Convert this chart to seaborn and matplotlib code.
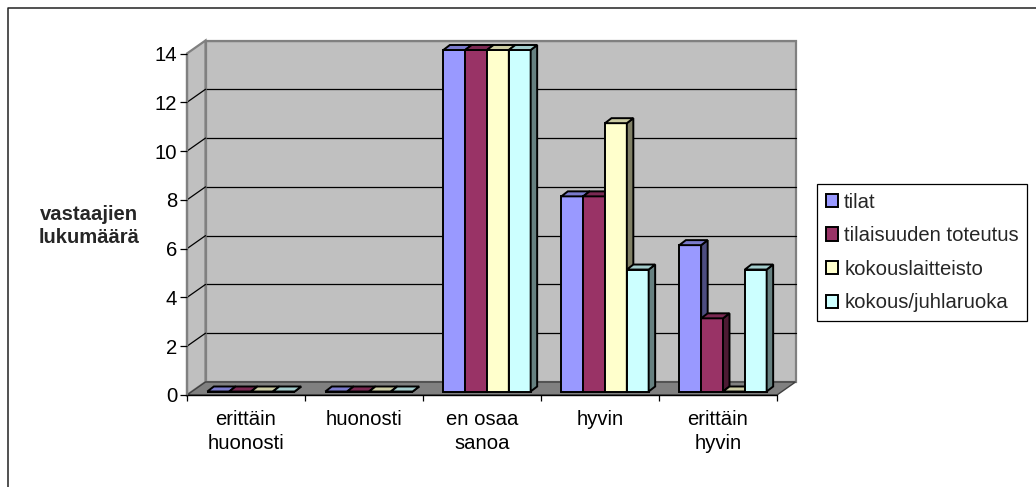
import numpy as np
import pandas as pd
import matplotlib
matplotlib.use("Agg")
import matplotlib.pyplot as plt
import seaborn as sns
from matplotlib.transforms import ScaledTranslation, IdentityTransform
from matplotlib.patches import Polygon, Patch
from matplotlib.lines import Line2D
from matplotlib.colors import to_rgb

# ---------------- data ----------------
categories = ["erittäin\nhuonosti", "huonosti", "en osaa\nsanoa", "hyvin", "erittäin\nhyvin"]
series = ["tilat", "tilaisuuden toteutus", "kokouslaitteisto", "kokous/juhlaruoka"]
tilat = [0, 0, 14, 8, 6]
toteutus = [0, 0, 14, 8, 3]
laitteisto = [0, 0, 14, 11, 0]
ruoka = [0, 0, 14, 5, 5]
yticks = [0, 2, 4, 6, 8, 10, 12, 14]
ylabel = "vastaajien\nlukumäärä"
colors = ["#9999FF", "#993366", "#FFFFCC", "#CCFFFF"]

values = [tilat, toteutus, laitteisto, ruoka]
rows = []
for s, vals in zip(series, values):
    for c, v in zip(categories, vals):
        rows.append({"cat": c, "series": s, "val": v})
df = pd.DataFrame(rows)

# ---------------- style ----------------
sns.set_theme(style="white")
plt.rcParams["font.family"] = ["Liberation Sans", "DejaVu Sans"]
FS = 14.6

W, H, DPI = 1036, 487, 100
fig = plt.figure(figsize=(W / DPI, H / DPI), dpi=DPI)
fig.patch.set_facecolor("white")
ax = fig.add_axes([187 / W, 92 / H, 590 / W, 341.5 / H])
ax.set_facecolor("none")

sns.barplot(data=df, x="cat", y="val", hue="series", order=categories,
            hue_order=series, palette=colors, saturation=1, width=0.74,
            errorbar=None, edgecolor="black", linewidth=1.4, ax=ax, legend=False)
ax.set_xlim(-0.5, len(categories) - 0.5)
ax.set_ylim(0, 14)
for sp in ax.spines.values():
    sp.set_visible(False)
ax.set_xlabel("")
ax.set_ylabel("")

# depth of the 3D box (pixels)
DX, DY = 18.5, 13.0
# bar front-face offset and bar depth (pixels)
FX, FY = 5.0, 3.5
BX, BY = 6.5, 5.0

fig.canvas.draw()
ident = IdentityTransform()

def disp(tr, pts):
    return np.asarray(tr.transform(pts))

# axes corners in display coords
a00, a10, a11, a01 = disp(ax.transAxes, [(0, 0), (1, 0), (1, 1), (0, 1)])
sh = np.array([DX, DY])
gray_wall = "#C0C0C0"
gray_edge = "#808080"

# back wall
ax.add_patch(Polygon([a00 + sh, a10 + sh, a11 + sh, a01 + sh], closed=True,
                     facecolor=gray_wall, edgecolor=gray_edge, linewidth=1.6,
                     transform=ident, clip_on=False, zorder=0.1))
# gridlines on back wall and diagonals on side wall
ytr = ax.get_yaxis_transform()
for v in yticks[1:]:
    p0 = disp(ytr, [(0, v)])[0]
    p1 = disp(ytr, [(1, v)])[0]
    ax.add_line(Line2D([p0[0] + sh[0], p1[0] + sh[0]], [p0[1] + sh[1], p1[1] + sh[1]],
                       color="black" if v != yticks[-1] else gray_edge, linewidth=0.9,
                       transform=ident, clip_on=False, zorder=0.2))
# left wall
ax.add_patch(Polygon([a00, a01, a01 + sh, a00 + sh], closed=True,
                     facecolor=gray_wall, edgecolor=gray_edge, linewidth=1.6,
                     transform=ident, clip_on=False, zorder=0.3))
for v in yticks[1:-1]:
    p0 = disp(ytr, [(0, v)])[0]
    ax.add_line(Line2D([p0[0], p0[0] + sh[0]], [p0[1], p0[1] + sh[1]],
                       color="black", linewidth=0.9, transform=ident,
                       clip_on=False, zorder=0.35))
# floor
ax.add_patch(Polygon([a00, a10, a10 + sh, a00 + sh], closed=True,
                     facecolor="#808080", edgecolor="#404040", linewidth=1.0,
                     transform=ident, clip_on=False, zorder=0.4))
ax.add_line(Line2D([a00[0], a10[0]], [a00[1], a10[1]], color="black", linewidth=1.0,
                   transform=ident, clip_on=False, zorder=0.45))
ax.add_line(Line2D([a00[0], a01[0]], [a00[1], a01[1]], color=gray_edge, linewidth=1.6,
                   transform=ident, clip_on=False, zorder=0.45))

# bars: shift front faces and add top/side faces
off_front = ScaledTranslation(FX / DPI, FY / DPI, fig.dpi_scale_trans)
def shade(c, f):
    r, g, b = to_rgb(c)
    return (r * f, g * f, b * f)

for j, cont in enumerate(ax.containers):
    col = colors[j]
    for i, p in enumerate(cont.patches):
        z = 2 + i * 10 + j * 2
        p.set_transform(ax.transData + off_front)
        p.set_clip_on(False)
        p.set_zorder(z)
        x0, x1 = p.get_x(), p.get_x() + p.get_width()
        h = p.get_height()
        (fx0, fy0), (fx1, fyh), = disp(ax.transData, [(x0, 0), (x1, h)])
        fx0 += FX; fx1 += FX; fy0 += FY; fyh += FY
        top = [(fx0, fyh), (fx1, fyh), (fx1 + BX, fyh + BY), (fx0 + BX, fyh + BY)]
        side = [(fx1, fy0), (fx1, fyh), (fx1 + BX, fyh + BY), (fx1 + BX, fy0 + BY)]
        ax.add_patch(Polygon(side, closed=True, facecolor=shade(col, 0.5),
                             edgecolor="black", linewidth=1.4, transform=ident,
                             clip_on=False, zorder=z + 0.5))
        ax.add_patch(Polygon(top, closed=True, facecolor=shade(col, 0.8),
                             edgecolor="black", linewidth=1.4, transform=ident,
                             clip_on=False, zorder=z + 0.6))

# ticks
ax.set_yticks(yticks)
ax.set_yticklabels([str(v) for v in yticks])
ax.tick_params(axis="y", which="major", left=True, length=5, width=0.9,
               color="black", direction="out", labelsize=FS, pad=2)
ax.set_xticks(range(len(categories)))
ax.set_xticklabels(categories, linespacing=1.3)
ax.set_xticks(np.arange(-0.5, len(categories), 1.0), minor=True)
ax.tick_params(axis="x", which="major", bottom=True, length=0, labelsize=FS, pad=11)
ax.tick_params(axis="x", which="minor", bottom=True, length=4.5, width=0.9,
               color="black", direction="out")
for t in ax.get_xticklabels() + ax.get_yticklabels():
    t.set_color("black")

# y label
fig.text(89 / W, 1 - 226 / H, ylabel, fontsize=FS, fontweight="bold",
         ha="center", va="center", multialignment="center", linespacing=1.3)

# legend
handles = [Patch(facecolor=c, edgecolor="black", linewidth=1.4) for c in colors]
leg = fig.legend(handles, series, loc="upper left",
                 bbox_to_anchor=(817 / W, 1 - 184 / H), frameon=True,
                 fancybox=False, edgecolor="black", framealpha=1, fontsize=FS,
                 handlelength=0.62, handleheight=0.62, handletextpad=0.3,
                 labelspacing=0.72, borderpad=0.42, borderaxespad=0)
leg.get_frame().set_linewidth(0.9)

# outer chart-area border (top and left visible)
fig.add_artist(Line2D([8 / W, 8 / W, 1.0], [0.0, 1 - 7.5 / H, 1 - 7.5 / H],
                      color="#222222", linewidth=1.1, transform=fig.transFigure))

fig.savefig("out.png", dpi=DPI)
